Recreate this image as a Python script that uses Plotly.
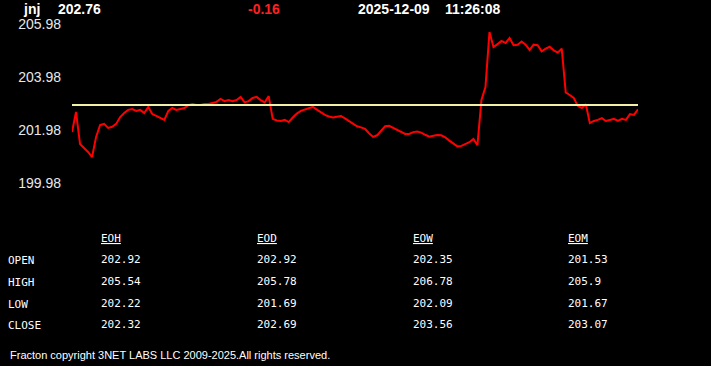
import plotly.graph_objects as go

symbol = "jnj"
last_price = "202.76"
change = "-0.16"
date_str = "2025-12-09"
time_str = "11:26:08"
open_ref = 202.92

prices = [
    201.90, 202.66, 201.45, 201.30, 201.15, 200.96, 201.72, 202.17, 202.21, 202.06,
    202.10, 202.21, 202.47, 202.62, 202.74, 202.77, 202.70, 202.74, 202.62, 202.85,
    202.58, 202.51, 202.43, 202.36, 202.70, 202.81, 202.74, 202.77, 202.81, 202.92,
    202.96, 202.92, 202.92, 202.96, 202.96, 203.00, 203.04, 203.15, 203.07, 203.11,
    203.07, 203.11, 203.23, 203.02, 203.07, 203.19, 203.23, 203.11, 203.02, 203.26,
    202.40, 202.34, 202.32, 202.36, 202.28, 202.45, 202.60, 202.70, 202.76, 202.81,
    202.85, 202.75, 202.64, 202.55, 202.49, 202.45, 202.48, 202.51, 202.42, 202.32,
    202.22, 202.12, 202.08, 202.02, 201.86, 201.72, 201.78, 201.96, 202.12, 202.14,
    202.06, 201.98, 201.90, 201.83, 201.83, 201.90, 201.92, 201.88, 201.80, 201.73,
    201.76, 201.79, 201.78, 201.70, 201.58, 201.47, 201.36, 201.38, 201.45, 201.52,
    201.64, 201.41, 203.11, 203.60, 205.68, 205.11, 205.22, 205.34, 205.26, 205.45,
    205.18, 205.20, 205.32, 205.20, 205.00, 205.20, 205.18, 204.95, 205.05, 205.12,
    204.98, 204.90, 205.05, 203.40, 203.30, 203.19, 202.89, 202.81, 202.95, 202.24,
    202.32, 202.36, 202.43, 202.32, 202.36, 202.40, 202.32, 202.40, 202.36, 202.58,
    202.55, 202.76,
]

y_ticks = [199.98, 201.98, 203.98, 205.98]

row_labels = ["OPEN", "HIGH", "LOW", "CLOSE"]
col_labels = ["EOH", "EOD", "EOW", "EOM"]
table_values = {
    "EOH": ["202.92", "205.54", "202.22", "202.32"],
    "EOD": ["202.92", "205.78", "201.69", "202.69"],
    "EOW": ["202.35", "206.78", "202.09", "203.56"],
    "EOM": ["201.53", "205.9", "201.67", "203.07"],
}
footer = "Fracton copyright 3NET LABS LLC 2009-2025.All rights reserved."

W, H = 711, 366
L, R, T, B = 72, 73, 24, 183
PW = W - L - R
PH = H - T - B


def px(x):
    return (x - L) / PW


def py(y):
    return (H - B - y) / PH


idx = list(range(len(prices)))
fig = go.Figure()
fig.add_trace(go.Scatter(x=idx, y=prices, mode="lines",
                         line=dict(color="#ff0000", width=2), hoverinfo="skip"))
fig.add_trace(go.Scatter(x=[idx[0], idx[-1]], y=[open_ref, open_ref], mode="lines",
                         line=dict(color="#f0f0a8", width=2), hoverinfo="skip"))

ann = []
bold = dict(family="Arial, Liberation Sans, sans-serif", size=14, color="#ffffff")


def add(text, x, y, font, xanchor="left"):
    ann.append(dict(text=text, x=px(x), y=py(y), xref="paper", yref="paper",
                    showarrow=False, xanchor=xanchor, yanchor="middle", font=font))


add("<b>" + symbol + "</b>", 21, 9, bold)
add("<b>" + last_price + "</b>", 56, 9, bold)
add("<b>" + change + "</b>", 246, 9, dict(bold, color="#ff2020"))
add("<b>" + date_str + "</b>", 356, 9, bold)
add("<b>" + time_str + "</b>", 443, 9, bold)

mono = dict(family="DejaVu Sans Mono, Liberation Mono, monospace", size=11, color="#ffffff")
col_x = [99, 255, 411, 566]
row_y = [259, 281, 303, 324]
for cx, c in zip(col_x, col_labels):
    add("<u>" + c + "</u>", cx, 238, mono)
    for ry, v in zip(row_y, table_values[c]):
        add(v, cx, ry, mono)
for ry, r in zip(row_y, row_labels):
    add(r, 6, ry + 1, mono)

add(footer, 8, 355, dict(family="Arial, Liberation Sans, sans-serif", size=11, color="#ffffff"))

fig.update_layout(
    width=W, height=H,
    margin=dict(l=L, r=R, t=T, b=B),
    paper_bgcolor="#000000", plot_bgcolor="#000000",
    showlegend=False,
    annotations=ann,
    xaxis=dict(range=[idx[0], idx[-1]], visible=False, showgrid=False, zeroline=False),
    yaxis=dict(range=[y_ticks[0], y_ticks[-1]], tickvals=y_ticks,
               ticktext=[f"{v:.2f}" for v in y_ticks],
               showgrid=False, zeroline=False, showline=False, ticks="",
               ticklabelstandoff=10,
               tickfont=dict(family="Arial, Liberation Sans, sans-serif", size=14, color="#e8e8e8")),
)
fig.write_html("out.html")
